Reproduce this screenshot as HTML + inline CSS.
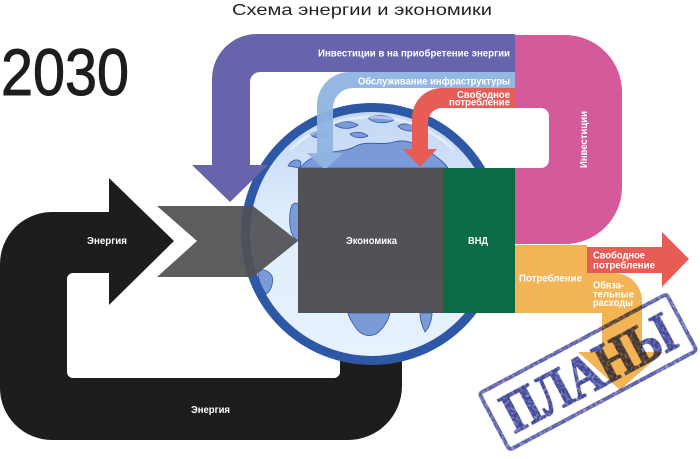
<!DOCTYPE html>
<html><head><meta charset="utf-8"><style>
html,body{margin:0;padding:0;background:#fff;}
svg{display:block;}
text{font-family:"Liberation Sans","DejaVu Sans",sans-serif;}
.l{fill:#fff;font-weight:bold;font-size:10px;}
</style></head><body>
<svg width="700" height="459" viewBox="0 0 700 459" xmlns="http://www.w3.org/2000/svg">
<defs>
<linearGradient id="gg" x1="0" y1="0" x2="0" y2="1">
<stop offset="0" stop-color="#c3d7f4"/>
<stop offset="0.22" stop-color="#cfe0f7"/>
<stop offset="0.45" stop-color="#e0eefc"/>
<stop offset="1" stop-color="#e6f2fd"/>
</linearGradient>
<filter id="grunge" x="-10%" y="-10%" width="120%" height="120%">
<feTurbulence type="fractalNoise" baseFrequency="0.35" numOctaves="2" seed="3" result="n"/>
<feColorMatrix in="n" type="matrix" values="0 0 0 0 0  0 0 0 0 0  0 0 0 0 0  0 0 0 -1.1 1.45" result="m"/>
<feComposite in="SourceGraphic" in2="m" operator="in"/>
</filter>
</defs>

<!-- Title -->
<text x="232" y="15" font-size="16" fill="#222" textLength="260" lengthAdjust="spacingAndGlyphs">Схема энергии и экономики</text>
<!-- 2030 -->
<text x="1" y="95" font-size="66" fill="#1d1d1b" stroke="#1d1d1b" stroke-width="1" textLength="128" lengthAdjust="spacingAndGlyphs">2030</text>

<!-- Black loop -->
<path d="M109,212 H52 A52,52 0 0 0 0,264 V388 A52,52 0 0 0 52,440 H348 A54,54 0 0 0 402,386 V300 H340 V372 A6,6 0 0 1 334,378 H73 A6,6 0 0 1 67,372 V279 A6,6 0 0 1 73,273 H109 V305 L174,241 L109,178 Z" fill="#1d1d1b"/>

<!-- Globe -->
<circle cx="372" cy="234" r="127" fill="url(#gg)"/>
<g fill="#7a9bd8" stroke="#2e57a5" stroke-width="0.8">
<path d="M300,168 C306,160 314,156 324,154 C336,150 346,152 356,146 C368,140 382,146 394,142 C408,138 420,146 430,152 C438,158 444,162 448,168 Z"/>
<path d="M335,125 C342,120 352,121 358,125 C352,129 342,130 335,125 Z"/>
<path d="M368,118 C376,114 388,115 394,120 C386,124 374,124 368,118 Z"/>
<path d="M398,126 C404,122 414,124 418,130 C410,132 402,131 398,126 Z"/>
<path d="M310,134 C316,130 324,131 328,136 C320,139 313,138 310,134 Z"/>
<path d="M350,134 C356,131 364,132 368,136 C360,139 354,138 350,134 Z"/>
<path d="M288,166 C291,160 297,158 301,162 L300,168 Z"/>
<path d="M292,205 C296,201 300,203 300,212 L300,240 C295,242 291,234 290,226 C289,218 290,210 292,205 Z"/>
<path d="M258,272 C262,268 268,270 272,276 C274,284 270,292 266,294 C262,288 258,280 258,272 Z"/>
<path d="M348,313 H390 C388,322 382,330 376,334 C368,338 360,334 356,328 C352,322 349,318 348,313 Z"/>
<path d="M420,313 H432 C432,320 429,328 425,332 C422,326 420,320 420,313 Z"/>
</g>
<path d="M290,150 A118,118 0 0 1 454,150" fill="none" stroke="#fff" stroke-width="3" opacity="0.45"/>
<circle cx="372" cy="234" r="126.5" fill="none" stroke="#2e57a5" stroke-width="9"/>

<!-- Gray chevron -->
<polygon points="157,206 253,206 298,241 253,277 157,277 197,241" fill="#505153" opacity="0.93"/>

<!-- Purple arrow -->
<path d="M212,79 A45,45 0 0 1 257,34 H515 V72 H260 A10,10 0 0 0 250,82 V165 H268 L230,202 L192,165 H212 Z" fill="#6764ab"/>
<!-- Light blue arrow -->
<path d="M515,72 H350 A33,33 0 0 0 317,105 V153 H307 L325,170 L343,153 H333 V108 A20,20 0 0 1 353,88 H515 Z" fill="#8fb4e0" opacity="0.95"/>
<!-- Red arrow -->
<path d="M515,88 H442 A30,30 0 0 0 412,118 V149 H403 L420,167 L437,149 H428 V122 A14,14 0 0 1 442,108 H515 Z" fill="#e85c56"/>

<!-- Pink loop -->
<path d="M515,35 H565 A57,57 0 0 1 622,92 V187 A57,57 0 0 1 565,244 H515 V168 H541 A8,8 0 0 0 549,160 V116 A8,8 0 0 0 541,108 H515 Z" fill="#d45a9a"/>

<!-- Economy box -->
<rect x="298" y="168" width="145" height="145" fill="#47484b" opacity="0.94"/>
<!-- Green box -->
<rect x="443" y="168" width="72" height="145" fill="#0b6b45"/>

<!-- Orange arrow -->
<path d="M515,245 H587 V273 H614 A28,28 0 0 1 642,301 V352 H663 L620,390 L578,352 H602 V313 H515 Z" fill="#f2b455"/>
<!-- Red right arrow -->
<path d="M587,247 H662 V232 L689,259 L662,287 V273 H587 Z" fill="#e85c56"/>

<!-- Stamp -->
<g transform="translate(588,372) rotate(-28)" style="mix-blend-mode:multiply" filter="url(#grunge)">
<rect x="-106" y="-32" width="212" height="64" rx="3" fill="none" stroke="#5a5fa8" stroke-width="4"/>
<text x="0" y="20" text-anchor="middle" style="font-family:'Liberation Serif','DejaVu Serif',serif;font-weight:bold;font-size:58px;" fill="#3f4699" stroke="#3f4699" stroke-width="1.2" textLength="188" lengthAdjust="spacingAndGlyphs">ПЛАНЫ</text>
</g>

<!-- Labels -->
<text class="l" x="510" y="56.5" text-anchor="end" textLength="192" lengthAdjust="spacingAndGlyphs">Инвестиции в на приобретение энергии</text>
<text class="l" x="510" y="84.5" text-anchor="end" textLength="152" lengthAdjust="spacingAndGlyphs">Обслуживание инфраструктуры</text>
<text class="l" x="510" y="98" text-anchor="end" textLength="53" lengthAdjust="spacingAndGlyphs">Свободное</text>
<text class="l" x="510" y="105.5" text-anchor="end" textLength="61" lengthAdjust="spacingAndGlyphs">потребление</text>
<text class="l" transform="translate(587,139.5) rotate(-90)" text-anchor="middle" textLength="57" lengthAdjust="spacingAndGlyphs">Инвестиции</text>
<text class="l" x="87" y="244" textLength="40" lengthAdjust="spacingAndGlyphs">Энергия</text>
<text class="l" x="191" y="413" textLength="39" lengthAdjust="spacingAndGlyphs">Энергия</text>
<text class="l" x="346" y="244" textLength="51" lengthAdjust="spacingAndGlyphs">Экономика</text>
<text class="l" x="468" y="244" textLength="20" lengthAdjust="spacingAndGlyphs">ВНД</text>
<text class="l" x="519" y="281.5" textLength="63" lengthAdjust="spacingAndGlyphs">Потребление</text>
<text class="l" x="593" y="258.5" textLength="52" lengthAdjust="spacingAndGlyphs">Свободное</text>
<text class="l" x="593" y="268.5" textLength="62" lengthAdjust="spacingAndGlyphs">потребление</text>
<text class="l" x="593" y="288.5" textLength="31" lengthAdjust="spacingAndGlyphs">Обяза-</text>
<text class="l" x="593" y="297.5" textLength="41" lengthAdjust="spacingAndGlyphs">тельные</text>
<text class="l" x="593" y="306" textLength="40" lengthAdjust="spacingAndGlyphs">расходы</text>
</svg>
</body></html>
